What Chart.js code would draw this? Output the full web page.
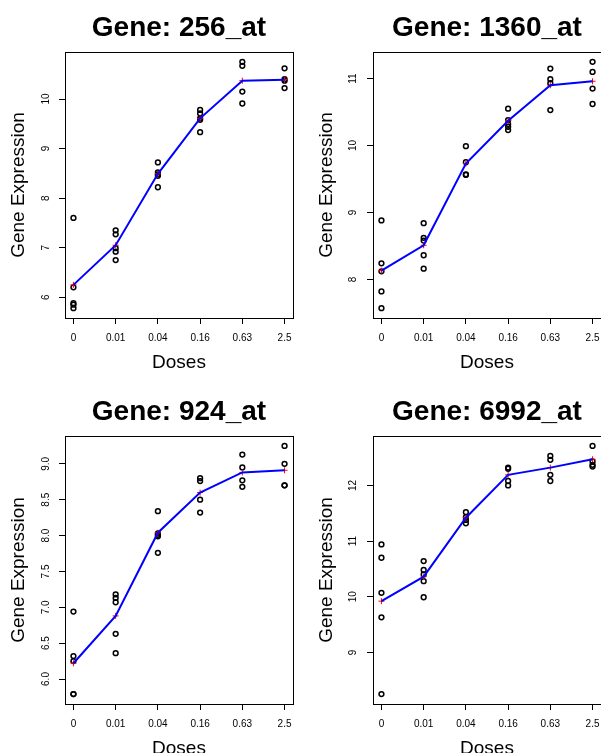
<!DOCTYPE html>
<html>
<head>
<meta charset="utf-8">
<script src="https://cdn.jsdelivr.net/npm/chart.js@4.4.1/dist/chart.umd.min.js"></script>
<style>
html, body { margin: 0; padding: 0; background: #fff; overflow: hidden; width: 601px; height: 753px; }
canvas { position: absolute; }
</style>
</head>
<body>
<canvas id="c1"></canvas>
<canvas id="c2"></canvas>
<canvas id="c3"></canvas>
<canvas id="c4"></canvas>
<script>
// ---- data ----
const doses = ['0', '0.01', '0.04', '0.16', '0.63', '2.5'];

const genes = ['256_at', '1360_at', '924_at', '6992_at'];

const expr256 = [
  [7.60, 6.20, 5.88, 5.85, 5.78],
  [7.35, 7.27, 6.99, 6.92, 6.75],
  [8.72, 8.52, 8.48, 8.45, 8.22],
  [9.78, 9.71, 9.61, 9.58, 9.33],
  [10.75, 10.67, 10.15, 9.91],
  [10.62, 10.40, 10.37, 10.22]
];
const mean256 = [6.25, 7.05, 8.49, 9.61, 10.37, 10.39];

const expr1360 = [
  [8.88, 8.24, 8.12, 7.82, 7.57],
  [8.84, 8.62, 8.58, 8.36, 8.16],
  [9.99, 9.75, 9.57, 9.56],
  [10.55, 10.38, 10.32, 10.28, 10.23],
  [11.15, 10.99, 10.93, 10.53],
  [11.25, 11.10, 10.85, 10.62]
];
const mean1360 = [8.13, 8.51, 9.73, 10.37, 10.90, 10.96];

const expr924 = [
  [6.94, 6.32, 6.25, 5.79, 5.79],
  [7.18, 7.13, 7.07, 6.63, 6.36],
  [8.34, 8.03, 8.01, 7.99, 7.76],
  [8.80, 8.76, 8.50, 8.32],
  [9.13, 8.95, 8.77, 8.68],
  [9.25, 9.00, 8.70, 8.70]
];
const mean924 = [6.22, 6.88, 8.04, 8.60, 8.88, 8.91];

const expr6992 = [
  [10.94, 10.70, 10.07, 9.63, 8.25],
  [10.64, 10.48, 10.40, 10.28, 9.99],
  [11.52, 11.43, 11.38, 11.32],
  [12.32, 12.30, 12.08, 12.00],
  [12.53, 12.46, 12.19, 12.08],
  [12.71, 12.43, 12.37, 12.34]
];
const mean6992 = [9.92, 10.36, 11.42, 12.19, 12.32, 12.47];

const yTicks256 = [6, 7, 8, 9, 10];
const yLabels256 = ['6', '7', '8', '9', '10'];
const yTicks1360 = [8, 9, 10, 11];
const yLabels1360 = ['8', '9', '10', '11'];
const yTicks924 = [6.0, 6.5, 7.0, 7.5, 8.0, 8.5, 9.0];
const yLabels924 = ['6.0', '6.5', '7.0', '7.5', '8.0', '8.5', '9.0'];
const yTicks6992 = [9, 10, 11, 12];
const yLabels6992 = ['9', '10', '11', '12'];

// ---- layout (pixels) ----
const FONT = '"Liberation Sans", Arial, Helvetica, sans-serif';
Chart.defaults.font.family = FONT;
Chart.defaults.color = '#000';

const boxPlugin = {
  id: 'plotBox',
  beforeDatasetsDraw(chart) {
    const a = chart.chartArea, ctx = chart.ctx;
    ctx.save();
    ctx.strokeStyle = '#000';
    ctx.lineWidth = 1;
    ctx.strokeRect(Math.round(a.left) + 0.5, Math.round(a.top) + 0.5,
                   Math.round(a.right - a.left), Math.round(a.bottom - a.top));
    ctx.restore();
  }
};

function makePanel(id, geo, gene, expr, means, yTicks, yLabels) {
  const cv = document.getElementById(id);
  cv.width = geo.w; cv.height = geo.h;
  cv.style.left = geo.x + 'px'; cv.style.top = geo.y + 'px';
  cv.style.width = geo.w + 'px'; cv.style.height = geo.h + 'px';

  const pts = [];
  expr.forEach((vals, i) => vals.forEach(v => pts.push({ x: i + 1, y: v })));
  const meanPts = means.map((m, i) => ({ x: i + 1, y: m }));
  const ys = pts.map(p => p.y).concat(means);
  const lo = Math.min(...ys), hi = Math.max(...ys), pad = (hi - lo) * 0.04;
  const n = doses.length, xpad = (n - 1) * 0.04;

  new Chart(cv, {
    type: 'scatter',
    data: {
      datasets: [
        { data: meanPts, showLine: true, borderColor: '#0000ff', borderWidth: 2,
          pointRadius: 0, fill: false, tension: 0, order: 0, clip: false },
        { data: meanPts, pointStyle: 'cross', pointRadius: 3, borderColor: '#ff0000',
          borderWidth: 1, order: 1, clip: false },
        { data: pts, pointStyle: 'circle', pointRadius: 2.4, borderWidth: 1.5,
          borderColor: '#000', backgroundColor: 'rgba(0,0,0,0)', order: 2, clip: false }
      ]
    },
    options: {
      responsive: false,
      animation: false,
      devicePixelRatio: 1,
      layout: { padding: { left: 0, top: 0, right: geo.w - geo.R, bottom: 0 } },
      plugins: {
        legend: { display: false },
        tooltip: { enabled: false },
        title: {
          display: true, text: 'Gene: ' + gene, color: '#000', fullSize: false,
          font: { size: 28, weight: 'bold', lineHeight: 1 },
          padding: { top: geo.tpt, bottom: geo.T - geo.tpt - 28 }
        }
      },
      scales: {
        x: {
          type: 'linear', min: 1 - xpad, max: n + xpad,
          afterBuildTicks: s => { s.ticks = doses.map((d, i) => ({ value: i + 1 })); },
          afterFit: s => { s.height = geo.h - geo.B; s.paddingLeft = 0; s.paddingRight = 0; },
          ticks: {
            callback: v => doses[Math.round(v) - 1],
            font: { size: 10 }, color: '#000', padding: 8.5, maxRotation: 0, minRotation: 0
          },
          grid: { display: true, drawOnChartArea: false, drawTicks: true, tickLength: 6,
                  color: '#000', lineWidth: 1 },
          border: { display: false },
          title: { display: true, text: 'Doses', color: '#000',
                   font: { size: 19, lineHeight: 1 }, padding: { top: 0, bottom: geo.xtpb } }
        },
        y: {
          type: 'linear', min: lo - pad, max: hi + pad,
          afterBuildTicks: s => { s.ticks = yTicks.map(v => ({ value: v })); },
          afterFit: s => { s.width = geo.L; s.paddingTop = 0; s.paddingBottom = 0; },
          ticks: {
            callback: (v, i) => yLabels[i],
            font: { size: 10 }, color: '#000', padding: geo.ytp,
            minRotation: 90, maxRotation: 90, crossAlign: 'center'
          },
          grid: { display: true, drawOnChartArea: false, drawTicks: true, tickLength: 6,
                  color: '#000', lineWidth: 1 },
          border: { display: false },
          title: { display: true, text: 'Gene Expression', color: '#000',
                   font: { size: 19, lineHeight: 1 }, padding: { top: geo.ytpt, bottom: 0 } }
        }
      }
    },
    plugins: [boxPlugin]
  });
}

const geo1 = { x: 0,   y: 0,   w: 300, h: 376, L: 65, T: 52, R: 293, B: 318, tpt: 14.1, xtpb: 4.1, ytpt: 9.6,  ytp: 7 };
const geo2 = { x: 300, y: 0,   w: 310, h: 376, L: 73, T: 52, R: 301, B: 318, tpt: 14.1, xtpb: 4.1, ytpt: 17.6, ytp: 8 };
const geo3 = { x: 0,   y: 376, w: 300, h: 390, L: 65, T: 60, R: 293, B: 328, tpt: 21.8, xtpb: 8.1, ytpt: 9.6,  ytp: 6 };
const geo4 = { x: 300, y: 376, w: 310, h: 390, L: 73, T: 60, R: 301, B: 328, tpt: 21.8, xtpb: 8.1, ytpt: 17.6, ytp: 8 };

makePanel('c1', geo1, genes[0], expr256, mean256, yTicks256, yLabels256);
makePanel('c2', geo2, genes[1], expr1360, mean1360, yTicks1360, yLabels1360);
makePanel('c3', geo3, genes[2], expr924, mean924, yTicks924, yLabels924);
makePanel('c4', geo4, genes[3], expr6992, mean6992, yTicks6992, yLabels6992);
</script>
</body>
</html>
